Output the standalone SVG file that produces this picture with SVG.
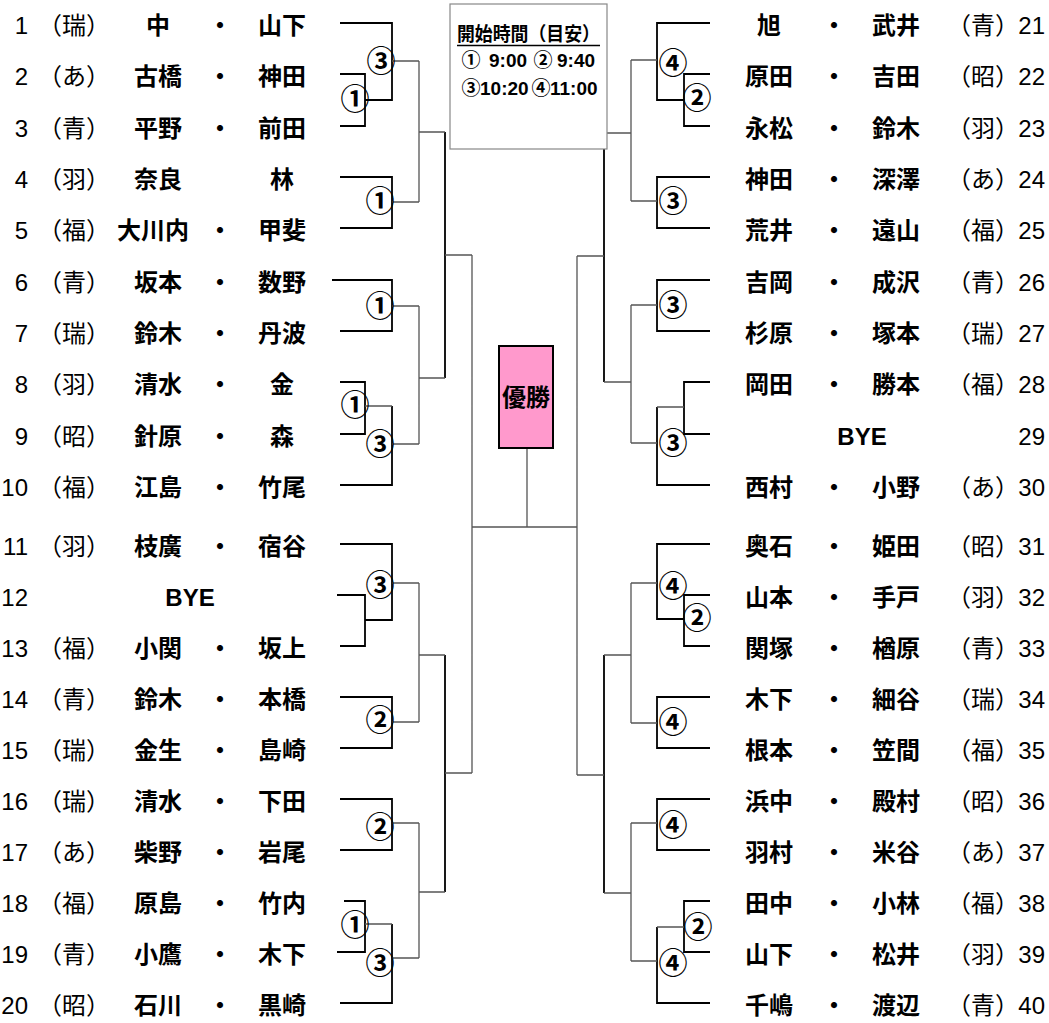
<svg xmlns="http://www.w3.org/2000/svg" width="1049" height="1023" viewBox="0 0 1049 1023">
<style>
.t{font-family:"Liberation Sans","Noto Sans CJK JP",sans-serif;font-size:24px;fill:#000}
.num{text-anchor:end}
.nm{font-weight:bold;text-anchor:middle}
.lab{font-family:"Noto Sans CJK JP",sans-serif;font-size:29px;font-weight:bold;text-anchor:middle}
.k{fill:none;stroke:#000;stroke-width:1.8}
.g{fill:none;stroke:#555;stroke-width:1.3}
.info{font-family:"Liberation Sans","Noto Sans CJK JP",sans-serif;font-size:19px;font-weight:bold}
.ci{font-family:"Noto Sans CJK JP",sans-serif;font-size:19px;font-weight:bold;text-anchor:middle}
</style>
<rect width="1049" height="1023" fill="#fff"/>
<g id="connectors">
<path class="k" d="M340 23H392V100H365M340 74H365V126H340M340 177H392V228H340M332 280H392V331H340M340 382H365V434H340M392 406V485H340M445 132V378M340 544H392V620H365M337 595H365V646H340M340 697H392V748H340M340 799H392V850H340M344 901H365V952H337M392 924V1003H340M445 655V892"/>
<path class="g" d="M392 61H419M392 202H419M419 61V202M419 132H445M392 306H419M365 406H392M392 444H419M419 306V444M419 378H445M445 255H472M392 583H419M392 722H419M419 583V722M419 655H445M392 823H419M365 924H392M392 958H419M419 823V958M419 892H445M445 773H472M472 255V773M472 527H577M527 448V527"/>
<path class="k" d="M710 23H657V100H684M710 74H684V126H710M710 177H657V228H710M710 280H657V331H710M710 382H684V434H710M657 407V485H710M604 133V382M710 544H657V619H684M710 595H684V646H710M710 697H657V748H710M710 799H657V850H710M710 901H684V952H710M657 927V1003H710M604 655V893"/>
<path class="g" d="M657 60H631M657 201H631M631 60V201M631 133H604M657 305H631M684 407H657M657 443H631M631 305V443M631 382H604M604 256H577M657 583H631M657 723H631M631 583V723M631 655H604M657 823H631M684 927H657M657 961H631M631 823V961M631 893H604M604 775H577M577 256V775"/>
<g class="lab">
<text x="381" y="72">③</text><text x="355" y="110">①</text><text x="380" y="212">①</text><text x="380" y="317">①</text><text x="355" y="416">①</text><text x="380" y="455">③</text>
<text x="380" y="596">③</text><text x="380" y="731">②</text><text x="380" y="838">②</text><text x="355" y="936">①</text><text x="380" y="974">③</text>
<text x="673" y="74">④</text><text x="697" y="109">②</text><text x="673" y="212">③</text><text x="673" y="316">③</text><text x="673" y="454">③</text>
<text x="673" y="597">④</text><text x="697" y="629">②</text><text x="673" y="733">④</text><text x="673" y="836">④</text><text x="698" y="938">②</text><text x="673" y="974">④</text>
</g>
</g>
<g id="info">
<rect x="450" y="4" width="157" height="145" fill="#fff" stroke="#888" stroke-width="1.2"/>
<text class="info" x="457" y="41" font-size="18" textLength="143" lengthAdjust="spacingAndGlyphs">開始時間（目安）</text>
<line x1="457" y1="45.5" x2="600" y2="45.5" stroke="#000" stroke-width="1.3"/>
<text class="ci" x="471" y="67">①</text>
<text class="info" x="489" y="67">9:00</text>
<text class="ci" x="543" y="67">②</text>
<text class="info" x="557" y="67">9:40</text>
<text class="ci" x="471" y="95">③</text>
<text class="info" x="480" y="95">10:20</text>
<text class="ci" x="541" y="95">④</text>
<text class="info" x="550" y="95">11:00</text>
</g>
<g id="champion">
<rect x="499" y="346" width="54" height="102" fill="#FF99CC" stroke="#000" stroke-width="2"/>
<text class="t nm" x="526" y="406" font-size="26">優勝</text>
</g>
<g id="p1"><text class="t num" x="28" y="34">1</text><text class="t" x="38" y="34">（瑞）</text><text class="t nm" x="158" y="34">中</text><text class="t nm" x="220" y="34">・</text><text class="t nm" x="282" y="34">山下</text></g>
<g id="p2"><text class="t num" x="28" y="85">2</text><text class="t" x="38" y="85">（あ）</text><text class="t nm" x="158" y="85">古橋</text><text class="t nm" x="220" y="85">・</text><text class="t nm" x="282" y="85">神田</text></g>
<g id="p3"><text class="t num" x="28" y="137">3</text><text class="t" x="38" y="137">（青）</text><text class="t nm" x="158" y="137">平野</text><text class="t nm" x="220" y="137">・</text><text class="t nm" x="282" y="137">前田</text></g>
<g id="p4"><text class="t num" x="28" y="188">4</text><text class="t" x="38" y="188">（羽）</text><text class="t nm" x="158" y="188">奈良</text><text class="t nm" x="282" y="188">林</text></g>
<g id="p5"><text class="t num" x="28" y="239">5</text><text class="t" x="38" y="239">（福）</text><text class="t nm" x="153" y="239">大川内</text><text class="t nm" x="220" y="239">・</text><text class="t nm" x="282" y="239">甲斐</text></g>
<g id="p6"><text class="t num" x="28" y="291">6</text><text class="t" x="38" y="291">（青）</text><text class="t nm" x="158" y="291">坂本</text><text class="t nm" x="220" y="291">・</text><text class="t nm" x="282" y="291">数野</text></g>
<g id="p7"><text class="t num" x="28" y="342">7</text><text class="t" x="38" y="342">（瑞）</text><text class="t nm" x="158" y="342">鈴木</text><text class="t nm" x="220" y="342">・</text><text class="t nm" x="282" y="342">丹波</text></g>
<g id="p8"><text class="t num" x="28" y="393">8</text><text class="t" x="38" y="393">（羽）</text><text class="t nm" x="158" y="393">清水</text><text class="t nm" x="220" y="393">・</text><text class="t nm" x="282" y="393">金</text></g>
<g id="p9"><text class="t num" x="28" y="445">9</text><text class="t" x="38" y="445">（昭）</text><text class="t nm" x="158" y="445">針原</text><text class="t nm" x="220" y="445">・</text><text class="t nm" x="282" y="445">森</text></g>
<g id="p10"><text class="t num" x="28" y="496">10</text><text class="t" x="38" y="496">（福）</text><text class="t nm" x="158" y="496">江島</text><text class="t nm" x="220" y="496">・</text><text class="t nm" x="282" y="496">竹尾</text></g>
<g id="p11"><text class="t num" x="28" y="555">11</text><text class="t" x="38" y="555">（羽）</text><text class="t nm" x="158" y="555">枝廣</text><text class="t nm" x="220" y="555">・</text><text class="t nm" x="282" y="555">宿谷</text></g>
<g id="p12"><text class="t num" x="28" y="606">12</text><text class="t nm" x="190" y="606">BYE</text></g>
<g id="p13"><text class="t num" x="28" y="657">13</text><text class="t" x="38" y="657">（福）</text><text class="t nm" x="158" y="657">小関</text><text class="t nm" x="220" y="657">・</text><text class="t nm" x="282" y="657">坂上</text></g>
<g id="p14"><text class="t num" x="28" y="708">14</text><text class="t" x="38" y="708">（青）</text><text class="t nm" x="158" y="708">鈴木</text><text class="t nm" x="220" y="708">・</text><text class="t nm" x="282" y="708">本橋</text></g>
<g id="p15"><text class="t num" x="28" y="759">15</text><text class="t" x="38" y="759">（瑞）</text><text class="t nm" x="158" y="759">金生</text><text class="t nm" x="220" y="759">・</text><text class="t nm" x="282" y="759">島崎</text></g>
<g id="p16"><text class="t num" x="28" y="810">16</text><text class="t" x="38" y="810">（瑞）</text><text class="t nm" x="158" y="810">清水</text><text class="t nm" x="220" y="810">・</text><text class="t nm" x="282" y="810">下田</text></g>
<g id="p17"><text class="t num" x="28" y="861">17</text><text class="t" x="38" y="861">（あ）</text><text class="t nm" x="158" y="861">柴野</text><text class="t nm" x="220" y="861">・</text><text class="t nm" x="282" y="861">岩尾</text></g>
<g id="p18"><text class="t num" x="28" y="912">18</text><text class="t" x="38" y="912">（福）</text><text class="t nm" x="158" y="912">原島</text><text class="t nm" x="220" y="912">・</text><text class="t nm" x="282" y="912">竹内</text></g>
<g id="p19"><text class="t num" x="28" y="963">19</text><text class="t" x="38" y="963">（青）</text><text class="t nm" x="158" y="963">小鷹</text><text class="t nm" x="220" y="963">・</text><text class="t nm" x="282" y="963">木下</text></g>
<g id="p20"><text class="t num" x="28" y="1014">20</text><text class="t" x="38" y="1014">（昭）</text><text class="t nm" x="158" y="1014">石川</text><text class="t nm" x="220" y="1014">・</text><text class="t nm" x="282" y="1014">黒崎</text></g>
<g id="p21"><text class="t nm" x="769" y="34">旭</text><text class="t nm" x="834" y="34">・</text><text class="t nm" x="896" y="34">武井</text><text class="t" x="947" y="34">（青）</text><text class="t num" x="1045" y="34">21</text></g>
<g id="p22"><text class="t nm" x="769" y="85">原田</text><text class="t nm" x="834" y="85">・</text><text class="t nm" x="896" y="85">吉田</text><text class="t" x="947" y="85">（昭）</text><text class="t num" x="1045" y="85">22</text></g>
<g id="p23"><text class="t nm" x="769" y="137">永松</text><text class="t nm" x="834" y="137">・</text><text class="t nm" x="896" y="137">鈴木</text><text class="t" x="947" y="137">（羽）</text><text class="t num" x="1045" y="137">23</text></g>
<g id="p24"><text class="t nm" x="769" y="188">神田</text><text class="t nm" x="834" y="188">・</text><text class="t nm" x="896" y="188">深澤</text><text class="t" x="947" y="188">（あ）</text><text class="t num" x="1045" y="188">24</text></g>
<g id="p25"><text class="t nm" x="769" y="239">荒井</text><text class="t nm" x="834" y="239">・</text><text class="t nm" x="896" y="239">遠山</text><text class="t" x="947" y="239">（福）</text><text class="t num" x="1045" y="239">25</text></g>
<g id="p26"><text class="t nm" x="769" y="291">吉岡</text><text class="t nm" x="834" y="291">・</text><text class="t nm" x="896" y="291">成沢</text><text class="t" x="947" y="291">（青）</text><text class="t num" x="1045" y="291">26</text></g>
<g id="p27"><text class="t nm" x="769" y="342">杉原</text><text class="t nm" x="834" y="342">・</text><text class="t nm" x="896" y="342">塚本</text><text class="t" x="947" y="342">（瑞）</text><text class="t num" x="1045" y="342">27</text></g>
<g id="p28"><text class="t nm" x="769" y="393">岡田</text><text class="t nm" x="834" y="393">・</text><text class="t nm" x="896" y="393">勝本</text><text class="t" x="947" y="393">（福）</text><text class="t num" x="1045" y="393">28</text></g>
<g id="p29"><text class="t nm" x="862" y="445">BYE</text><text class="t num" x="1045" y="445">29</text></g>
<g id="p30"><text class="t nm" x="769" y="496">西村</text><text class="t nm" x="834" y="496">・</text><text class="t nm" x="896" y="496">小野</text><text class="t" x="947" y="496">（あ）</text><text class="t num" x="1045" y="496">30</text></g>
<g id="p31"><text class="t nm" x="769" y="555">奥石</text><text class="t nm" x="834" y="555">・</text><text class="t nm" x="896" y="555">姫田</text><text class="t" x="947" y="555">（昭）</text><text class="t num" x="1045" y="555">31</text></g>
<g id="p32"><text class="t nm" x="769" y="606">山本</text><text class="t nm" x="834" y="606">・</text><text class="t nm" x="896" y="606">手戸</text><text class="t" x="947" y="606">（羽）</text><text class="t num" x="1045" y="606">32</text></g>
<g id="p33"><text class="t nm" x="769" y="657">関塚</text><text class="t nm" x="834" y="657">・</text><text class="t nm" x="896" y="657">楢原</text><text class="t" x="947" y="657">（青）</text><text class="t num" x="1045" y="657">33</text></g>
<g id="p34"><text class="t nm" x="769" y="708">木下</text><text class="t nm" x="834" y="708">・</text><text class="t nm" x="896" y="708">細谷</text><text class="t" x="947" y="708">（瑞）</text><text class="t num" x="1045" y="708">34</text></g>
<g id="p35"><text class="t nm" x="769" y="759">根本</text><text class="t nm" x="834" y="759">・</text><text class="t nm" x="896" y="759">笠間</text><text class="t" x="947" y="759">（福）</text><text class="t num" x="1045" y="759">35</text></g>
<g id="p36"><text class="t nm" x="769" y="810">浜中</text><text class="t nm" x="834" y="810">・</text><text class="t nm" x="896" y="810">殿村</text><text class="t" x="947" y="810">（昭）</text><text class="t num" x="1045" y="810">36</text></g>
<g id="p37"><text class="t nm" x="769" y="861">羽村</text><text class="t nm" x="834" y="861">・</text><text class="t nm" x="896" y="861">米谷</text><text class="t" x="947" y="861">（あ）</text><text class="t num" x="1045" y="861">37</text></g>
<g id="p38"><text class="t nm" x="769" y="912">田中</text><text class="t nm" x="834" y="912">・</text><text class="t nm" x="896" y="912">小林</text><text class="t" x="947" y="912">（福）</text><text class="t num" x="1045" y="912">38</text></g>
<g id="p39"><text class="t nm" x="769" y="963">山下</text><text class="t nm" x="834" y="963">・</text><text class="t nm" x="896" y="963">松井</text><text class="t" x="947" y="963">（羽）</text><text class="t num" x="1045" y="963">39</text></g>
<g id="p40"><text class="t nm" x="769" y="1014">千嶋</text><text class="t nm" x="834" y="1014">・</text><text class="t nm" x="896" y="1014">渡辺</text><text class="t" x="947" y="1014">（青）</text><text class="t num" x="1045" y="1014">40</text></g>
</svg>
